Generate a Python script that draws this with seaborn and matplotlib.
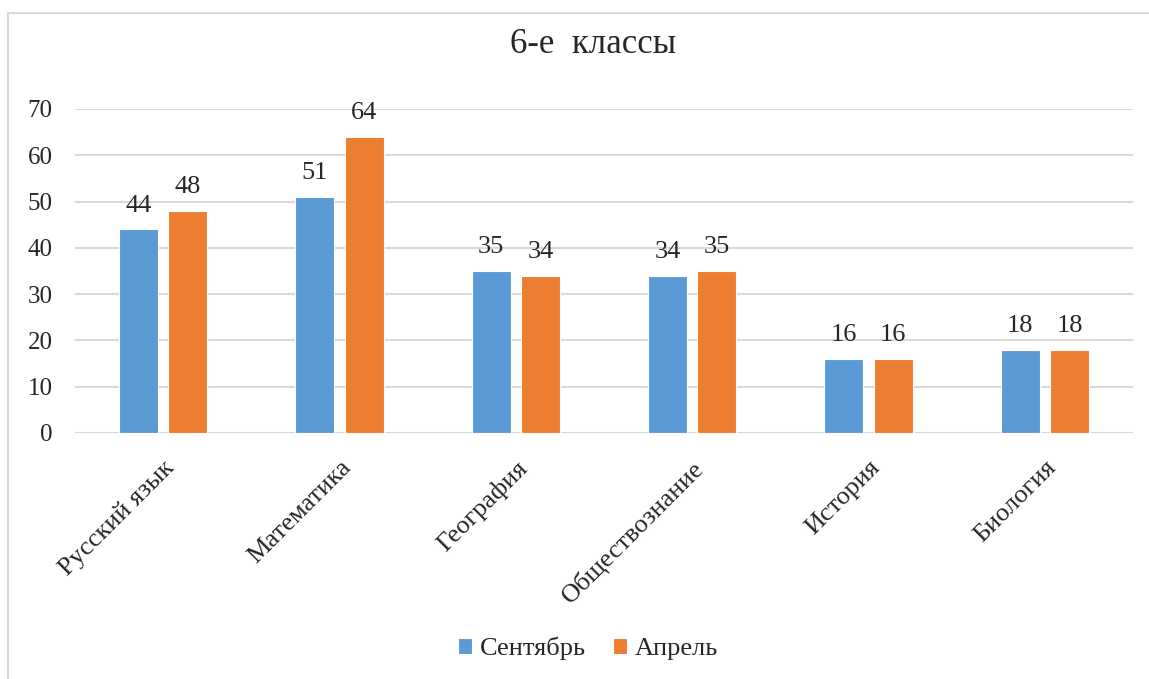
import pandas as pd
import numpy as np
import matplotlib.pyplot as plt
import seaborn as sns
from matplotlib.patches import Rectangle

# data
subjects = ["Русский язык", "Математика", "География", "Обществознание", "История", "Биология"]
september = [44, 51, 35, 34, 16, 18]
april = [48, 64, 34, 35, 16, 18]
series_names = ["Сентябрь", "Апрель"]
colors = ["#5B9BD5", "#ED7D31"]

df = pd.DataFrame({
    "subject": subjects * 2,
    "value": september + april,
    "period": [series_names[0]] * len(subjects) + [series_names[1]] * len(subjects),
})

sns.set_style("white")
plt.rcParams["font.family"] = ["Liberation Serif", "DejaVu Serif"]

fig = plt.figure(figsize=(11.49, 6.79), dpi=100)
ax = fig.add_axes([0.0653, 0.3623, 0.9207, 0.4772])

sns.barplot(data=df, x="subject", y="value", hue="period", palette=colors,
            saturation=1, width=0.56, gap=0.21, ax=ax, edgecolor="white",
            linewidth=0.8, legend=True)

for c in ax.containers:
    ax.bar_label(c, fmt="%d", padding=9, fontsize=19, color="#262626")

ax.set_ylim(0, 70)
ax.set_xlim(-0.5, 5.5)
ax.set_yticks(range(0, 71, 10))
ax.yaxis.grid(True, color="#D9D9D9", linewidth=1.5)
ax.set_axisbelow(True)
for s in ax.spines.values():
    s.set_visible(False)
ax.set_xlabel("")
ax.set_ylabel("")
ax.tick_params(axis="y", labelsize=18, colors="#262626", length=0, pad=16)
ax.tick_params(axis="x", labelsize=19, colors="#262626", length=0, pad=17)
plt.setp(ax.get_xticklabels(), rotation=45, ha="right", va="top", rotation_mode="anchor")

# title centred over the whole chart, as Excel does
fig.text(0.516, 0.935, "6-е  классы", fontsize=25, color="#262626", ha="center", va="center")

leg = ax.legend(loc="center", bbox_to_anchor=(0.485, -0.665), ncol=2, frameon=False,
                fontsize=19, handlelength=0.55, handleheight=0.55, handletextpad=0.3,
                columnspacing=1.0)

# chart border like Excel
fig.patches.append(Rectangle((8 / 1149, -0.01), 1.1, 1 - 13 / 679 + 0.01, transform=fig.transFigure,
                             fill=False, edgecolor="#D9D9D9", linewidth=1.5))

fig.savefig("out.png", dpi=100)
